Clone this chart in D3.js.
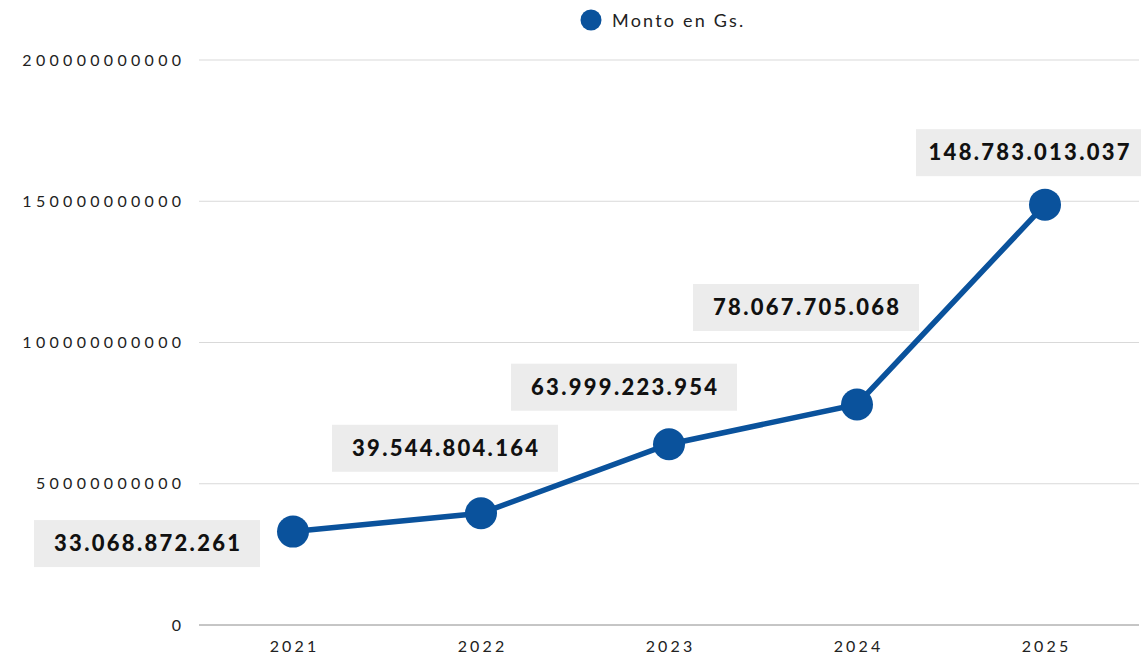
<!DOCTYPE html>
<html><head><meta charset="utf-8">
<script src="https://cdn.jsdelivr.net/npm/d3@7"></script>
<style>body{margin:0;background:#fff;font-family:Lato,"Open Sans",sans-serif;}</style>
</head><body><svg id="c" width="1141" height="656"></svg>
<script>
const categories = ["2021","2022","2023","2024","2025"];
const values = [33068872261, 39544804164, 63999223954, 78067705068, 148783013037];
const valueLabels = ["33.068.872.261","39.544.804.164","63.999.223.954","78.067.705.068","148.783.013.037"];
const yTicks = [0, 50000000000, 100000000000, 150000000000, 200000000000];
const seriesName = "Monto en Gs.";

// label box offsets relative to point (layout)
const labelOffsets = [[-146,12],[-36,-65],[-45,-57],[-51,-97],[-16,-52]];

const W=1141,H=656, m={l:199,r:2,t:60,b:31};
const svg=d3.select("#c");
const color="#0a529c";
const x=d3.scaleBand().domain(categories).range([m.l,W-m.r]);
const y=d3.scaleLinear().domain([0,200000000000]).range([H-m.b,m.t]);

// grid
svg.append("g").selectAll("line").data(yTicks).join("line")
 .attr("x1",m.l).attr("x2",W-m.r).attr("y1",d=>y(d)).attr("y2",d=>y(d))
 .attr("stroke",d=>d===0?"#8c8c8c":"#d9d9d9").attr("stroke-width",1);
const tls=4.3;
svg.append("g").selectAll("text").data(yTicks).join("text")
 .attr("x",181+tls).attr("y",d=>y(d)).attr("dy","0.35em").attr("text-anchor","end")
 .attr("font-size",16).attr("letter-spacing",tls).attr("fill","#222").text(d=>String(d));
svg.append("g").selectAll("text").data(categories).join("text")
 .attr("x",d=>x(d)+x.bandwidth()/2+1.6).attr("y",646).attr("dy","0.35em").attr("text-anchor","middle")
 .attr("font-size",16).attr("letter-spacing",3.2).attr("fill","#222").text(d=>d);

const pts=categories.map((c,i)=>[x(c)+x.bandwidth()/2,y(values[i])]);
svg.append("path").attr("d",d3.line()(pts)).attr("fill","none").attr("stroke",color).attr("stroke-width",5.5);
svg.append("g").selectAll("circle").data(pts).join("circle")
 .attr("cx",d=>d[0]).attr("cy",d=>d[1]).attr("r",16).attr("fill",color);

// labels
const lg=svg.append("g");
pts.forEach((p,i)=>{
  const cx=p[0]+labelOffsets[i][0], cy=p[1]+labelOffsets[i][1];
  lg.append("rect").attr("x",cx-113).attr("y",cy-23.5).attr("width",226).attr("height",47).attr("fill","#ececec");
  lg.append("text").attr("x",cx+1.2).attr("y",cy).attr("dy","0.35em").attr("text-anchor","middle")
    .attr("font-size",22).attr("font-weight","900").attr("letter-spacing",2.3).attr("fill","#111").text(valueLabels[i]);
});

// legend
svg.append("circle").attr("cx",591).attr("cy",20).attr("r",10.5).attr("fill",color);
svg.append("text").attr("x",612).attr("y",21).attr("dy","0.35em").attr("font-size",18).attr("letter-spacing",2.2).attr("fill","#222").text(seriesName);
</script></body></html>
